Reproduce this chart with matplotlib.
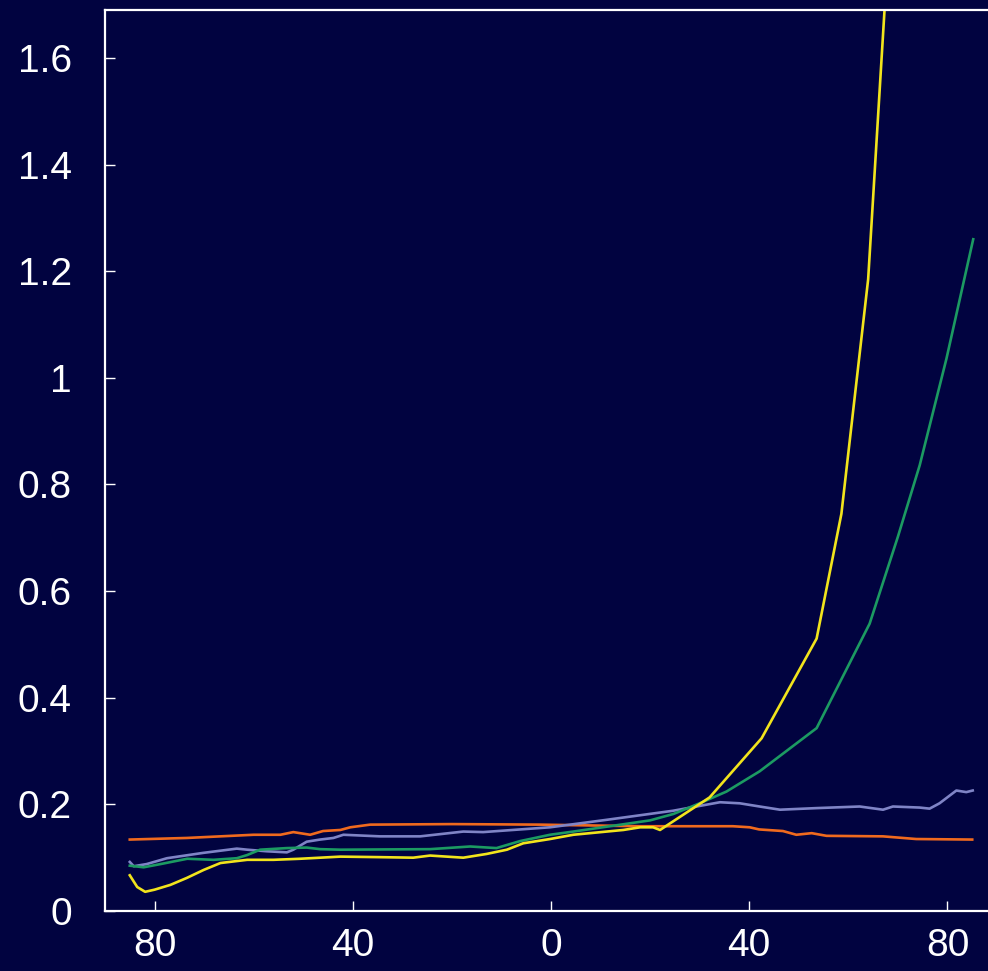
import matplotlib
matplotlib.use('Agg')
import matplotlib.pyplot as plt

# latitude profiles (south negative, north positive)
lat_orange = [-85, -73.5, -60, -54.6, -52, -48.6, -46, -42.5, -40.5, -36.5, -20, -2.2,
              18, 36.7, 40.1, 42, 46.8, 49.5, 52.6, 55.6, 67, 73.7, 85]
val_orange = [0.134, 0.137, 0.143, 0.143, 0.148, 0.143, 0.150, 0.152, 0.157, 0.162, 0.163, 0.162,
              0.159, 0.159, 0.157, 0.153, 0.150, 0.143, 0.146, 0.141, 0.140, 0.135, 0.134]

lat_lav = [-85, -84.2, -81.6, -77.5, -70.2, -63.4, -61.3, -57.3, -53.3, -52, -49.3, -46.6,
           -43.9, -41.9, -34.5, -26.4, -17.7, -13.7, -0.2, 11.2, 24.6, 34.1, 38.1, 42.1,
           46.2, 53.6, 62.3, 67, 69, 74.4, 76.4, 78.4, 81.8, 83.8, 85.1]
val_lav = [0.092, 0.084, 0.088, 0.099, 0.109, 0.117, 0.115, 0.112, 0.110, 0.115, 0.130, 0.134,
           0.137, 0.143, 0.140, 0.140, 0.149, 0.148, 0.157, 0.171, 0.188, 0.204, 0.202, 0.196,
           0.190, 0.193, 0.196, 0.190, 0.196, 0.194, 0.192, 0.202, 0.226, 0.223, 0.226]

lat_green = [-85, -82.2, -78.8, -73.4, -68.1, -63.4, -61.3, -58.7, -53.3, -49.3, -46.6,
             -42.5, -24.4, -16.3, -11, -6.3, -0.2, 4.5, 20, 24.7, 30, 35.4, 42.1,
             53.6, 64.3, 70, 74.4, 79.8, 85.2]
val_green = [0.085, 0.082, 0.088, 0.098, 0.096, 0.099, 0.105, 0.115, 0.118, 0.119, 0.116,
             0.115, 0.116, 0.121, 0.118, 0.131, 0.143, 0.149, 0.170, 0.182, 0.202, 0.224, 0.262,
             0.343, 0.539, 0.702, 0.836, 1.036, 1.26]

lat_yellow = [-85, -83.5, -81.9, -80, -76.8, -73.5, -70.1, -66.7, -61.3, -56, -50.6, -42.5, -34.5,
              -27.8, -24.4, -17.7, -13, -8.9, -5.6, -0.2, 4.5, 14.6, 18, 20.6, 22,
              32, 42.5, 53.6, 58.6, 64, 69.2]
val_yellow = [0.067, 0.045, 0.036, 0.040, 0.049, 0.062, 0.077, 0.090, 0.096, 0.096, 0.098, 0.102, 0.101,
              0.100, 0.104, 0.100, 0.107, 0.115, 0.127, 0.135, 0.143, 0.152, 0.157, 0.157, 0.152,
              0.213, 0.324, 0.511, 0.745, 1.185, 1.98]

x_ticks = [-80, -40, 0, 40, 80]
x_ticklabels = ['80', '40', '0', '40', '80']
y_ticks = [0, 0.2, 0.4, 0.6, 0.8, 1.0, 1.2, 1.4, 1.6]
y_ticklabels = ['0', '0.2', '0.4', '0.6', '0.8', '1', '1.2', '1.4', '1.6']

bg = '#010340'
plt.rcParams['font.family'] = ['Liberation Sans', 'DejaVu Sans']

fig = plt.figure(figsize=(9.88, 9.71), dpi=100, facecolor=bg)
ax = fig.add_axes([105/988, 60/971, 892/988, 901/971], facecolor=bg)

ax.plot(lat_orange, val_orange, color='#f06a1e', lw=1.9)
ax.plot(lat_lav, val_lav, color='#7f84c6', lw=1.9)
ax.plot(lat_green, val_green, color='#1c9a62', lw=1.9)
ax.plot(lat_yellow, val_yellow, color='#f2e41c', lw=1.9)

ax.set_xlim(-90, 90)
ax.set_ylim(0, 1.69)
ax.set_xticks(x_ticks)
ax.set_xticklabels(x_ticklabels)
ax.set_yticks(y_ticks)
ax.set_yticklabels(y_ticklabels)

for s in ax.spines.values():
    s.set_color('white')
    s.set_linewidth(1.6)
ax.tick_params(axis='both', direction='in', length=7, width=1, color='white',
               labelcolor='white', labelsize=28)
ax.tick_params(axis='x', pad=12)
ax.tick_params(axis='y', pad=24)

fig.savefig('out.png', dpi=100, facecolor=bg)
